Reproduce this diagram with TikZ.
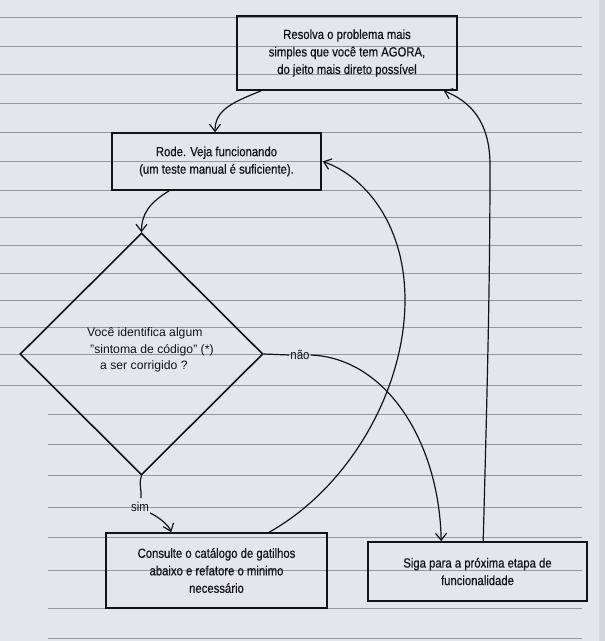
\documentclass[tikz,border=0pt]{standalone}
\usepackage{fontspec}
\setmainfont{Liberation Sans}
\newfontfamily\hand[FakeStretch=0.85,FakeBold=0.6]{Liberation Sans}
\newfontfamily\handlight[FakeStretch=0.88]{Liberation Sans}
\usetikzlibrary{arrows.meta,shapes.geometric,calc}
\definecolor{paper}{RGB}{229,230,235}
\definecolor{rule}{RGB}{150,151,156}
\definecolor{ink}{RGB}{20,20,22}
\begin{document}
\begin{tikzpicture}[x=1pt,y=-1pt,
  box/.style={draw=ink, line width=1.6pt, inner sep=0pt, align=center,
    font=\hand\fontsize{13.3}{17.5}\selectfont, text=ink},
  conn/.style={line width=1.2pt, draw=ink},
  arr/.style={conn, -{Straight Barb[length=7pt,width=11pt,line width=1.2pt]}},
  lbl/.style={font=\handlight\fontsize{13}{14}\selectfont, inner sep=1pt, text=ink},
  ruled/.style={draw=rule, line width=0.8pt}]
\useasboundingbox (0,0) rectangle (605,641);
\fill[paper] (0,0) rectangle (605,641);
\fill[paper!93!black] (599,0) rectangle (605,641);
% notebook lines
\foreach \yy in {17,46,74,103,132,161,190,217,245,273,300,327,354,385}
  \draw[ruled] (0,\yy) -- (582,\yy);
\foreach \yy in {414,444,475,507,537,570,608,638}
  \draw[ruled] (48,\yy) -- (582,\yy);

% nodes
\node[box, minimum width=220pt, minimum height=74pt] (top) at (347,53)
  {Resolva o problema mais\\simples que você tem AGORA,\\do jeito mais direto possível};
\node[box, minimum width=209pt, minimum height=57pt] (rode) at (216.5,161.5)
  {Rode. Veja funcionando\\(um teste manual é suficiente).};
\node[draw=ink, line width=1.6pt, diamond, inner sep=0pt,
  minimum width=243pt, minimum height=242pt] (dia) at (141.5,354) {};
\node[anchor=west, align=left, inner sep=0pt, text=ink,
  font=\fontsize{12.2}{16.5}\selectfont] (dtext) at (87,350)
  {Você identifica algum\\\hspace*{3pt}"sintoma de código" (*)\\\hspace*{13pt}a ser corrigido ?};
\node[box, minimum width=221pt, minimum height=75pt] (cons) at (216.5,570.5)
  {Consulte o catálogo de gatilhos\\abaixo e refatore o minimo\\necessário};
\node[box, minimum width=219pt, minimum height=59pt] (siga) at (477.5,571.5)
  {Siga para a próxima etapa de\\funcionalidade};
\node[lbl] (nao) at (300,355) {não};
\node[lbl] (sim) at (140,507) {sim};

\coordinate (c5) at (405,300);
\coordinate (c6) at (490,165);

% connectors
\draw[arr] ($(top.south west)+(25,0)$) .. controls +(-30,12) and +(0,-22) .. ($(rode.north)+(-1.5,0)$);
\draw[arr] ($(rode.south west)+(58,0)$) .. controls +(-20,12) and +(0,-18) .. (dia.north);
\draw[conn] (dia.east) -- (nao.west);
\draw[arr] (nao.east) .. controls +(75,3) and +(-2,-100) .. ($(siga.north west)+(74,0)$);
\draw[conn] (dia.south) .. controls +(-3,8) and +(1,-6) .. ($(sim.north)+(1,-3)$);
\draw[arr] (sim.south east) .. controls +(8,4) and +(-3,-8) .. ($(cons.north west)+(66,0)$);
\draw[arr] ($(cons.north west)+(164,0)$) .. controls +(80,-45) and +(0,90) .. (c5)
  .. controls +(0,-80) and +(38,13) .. ($(rode.east)+(1,0)$);
\draw[arr] ($(siga.north west)+(116,0)$) .. controls +(4,-150) and +(0,120) .. (c6)
  .. controls +(0,-45) and +(25,10) .. ($(top.south east)+(-14,0)$);
\end{tikzpicture}
\end{document}
